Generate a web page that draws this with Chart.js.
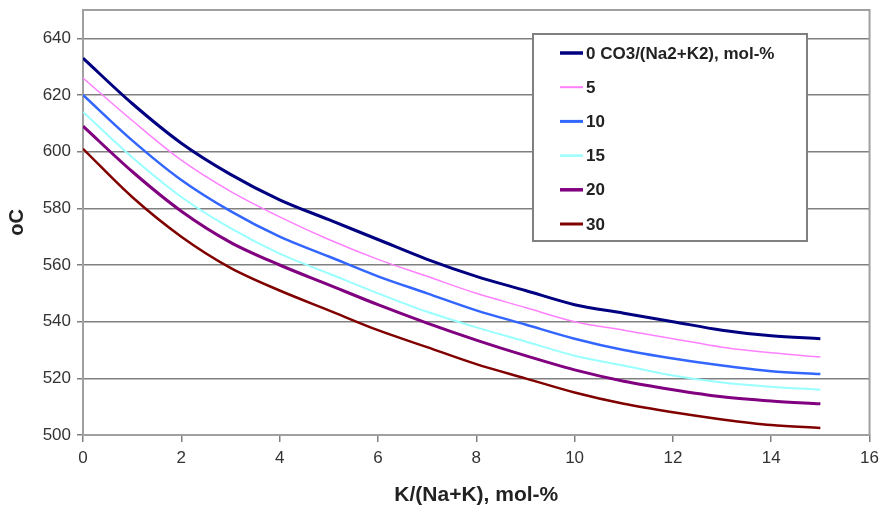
<!DOCTYPE html>
<html>
<head>
<meta charset="utf-8">
<script src="https://cdn.jsdelivr.net/npm/chart.js@4"></script>
<style>
  body { margin: 0; background: #fff; }
  canvas { display: block; }
</style>
</head>
<body>
<canvas id="chart" width="885" height="514"></canvas>
<script>
// K/(Na+K), mol-%
const xValues = [0, 1, 2, 3, 4, 5, 6, 7, 8, 9, 10, 11, 12, 13, 14, 15];
// CO3/(Na2+K2), mol-%
const seriesLabels = ['0 CO3/(Na2+K2), mol-%', '5', '10', '15', '20', '30'];
const co3_0  = [633, 617, 603, 592, 583, 576, 569, 562, 556, 551, 546, 543, 540, 537, 535, 534];
const co3_5  = [626, 611, 597, 586, 577, 569, 562, 556, 550, 545, 540, 537, 534, 531, 529, 527.5];
const co3_10 = [620, 604, 590, 579, 570, 563, 556, 550, 544, 539, 534, 530, 527, 524.5, 522.5, 521.5];
const co3_15 = [614, 598, 584, 573, 564, 557, 550, 543.5, 538, 533, 528, 524.5, 521, 518.5, 517, 516];
const co3_20 = [609, 593, 579, 568, 560, 553, 546, 539.5, 533.5, 528, 523, 519, 516, 513.5, 512, 511];
const co3_30 = [601, 584, 570, 559, 551, 544, 537, 531, 525, 520, 515, 511, 508, 505.5, 503.5, 502.5];
const yTicks = [500, 520, 540, 560, 580, 600, 620, 640];

const allSeries = [co3_0, co3_5, co3_10, co3_15, co3_20, co3_30];
const colors = ['#000080', '#ff80ff', '#3366ff', '#99ffff', '#800080', '#800000'];
const widths = [3, 1.5, 2.5, 2, 3, 2.5];
const fontFamily = '"Liberation Sans", Arial, sans-serif';

const datasets = allSeries.map((vals, i) => ({
    label: seriesLabels[i],
    data: xValues.map((x, j) => ({ x: x, y: vals[j] })),
    borderColor: colors[i],
    borderWidth: widths[i],
    pointRadius: 0,
    fill: false,
    cubicInterpolationMode: 'monotone'
}));

// plot frame + legend box inside the plot
const framePlugin = {
    id: 'frame',
    beforeDatasetsDraw(chart) {
        const { ctx, chartArea: a } = chart;
        ctx.save();
        ctx.strokeStyle = '#a0a0a0';
        ctx.lineWidth = 2;
        ctx.strokeRect(a.left, a.top, a.right - a.left, a.bottom - a.top);
        ctx.restore();
    },
    afterDatasetsDraw(chart) {
        const ctx = chart.ctx;
        ctx.save();
        ctx.fillStyle = '#fff';
        ctx.fillRect(533, 34, 274, 207);
        ctx.strokeStyle = '#808080';
        ctx.lineWidth = 2;
        ctx.strokeRect(533, 34, 274, 207);
        ctx.font = 'bold 17px ' + fontFamily;
        ctx.textBaseline = 'middle';
        chart.data.datasets.forEach((ds, i) => {
            const y = 53 + i * 34.2;
            ctx.strokeStyle = ds.borderColor;
            ctx.lineWidth = ds.borderWidth + 0.5;
            ctx.beginPath();
            ctx.moveTo(560, y);
            ctx.lineTo(583, y);
            ctx.stroke();
            ctx.fillStyle = '#222';
            ctx.fillText(ds.label, 586, y + 1);
        });
        ctx.restore();
    }
};

new Chart(document.getElementById('chart').getContext('2d'), {
    type: 'line',
    data: { datasets: datasets },
    options: {
        responsive: false,
        animation: false,
        layout: { padding: { top: 10, right: 13, left: 0, bottom: 0 } },
        plugins: {
            legend: { display: false },
            tooltip: { enabled: false }
        },
        scales: {
            x: {
                type: 'linear',
                min: 0,
                max: 16,
                ticks: {
                    stepSize: 2,
                    color: '#333',
                    font: { family: fontFamily, size: 17 },
                    padding: 6
                },
                grid: { drawOnChartArea: false, tickLength: 7, color: '#808080', lineWidth: 1.5 },
                border: { display: false },
                title: {
                    display: true,
                    text: 'K/(Na+K), mol-%',
                    color: '#222',
                    font: { family: fontFamily, size: 21, weight: 'bold' },
                    padding: { top: 0, bottom: 6 }
                },
                afterFit(axis) { axis.height = 79; }
            },
            y: {
                type: 'linear',
                min: 500,
                max: 650,
                afterBuildTicks(axis) {
                    axis.ticks = yTicks.map(v => ({ value: v }));
                },
                ticks: {
                    color: '#333',
                    font: { family: fontFamily, size: 17 },
                    padding: 6
                },
                grid: { color: '#808080', lineWidth: 1.5, tickLength: 6 },
                border: { display: false },
                title: {
                    display: true,
                    text: 'oC',
                    color: '#222',
                    font: { family: fontFamily, size: 20, weight: 'bold' },
                    padding: { top: 5, bottom: 0 }
                },
                afterFit(axis) {
                    axis.width = 83;
                    axis.paddingTop = 0;
                }
            }
        }
    },
    plugins: [framePlugin]
});
</script>
</body>
</html>
